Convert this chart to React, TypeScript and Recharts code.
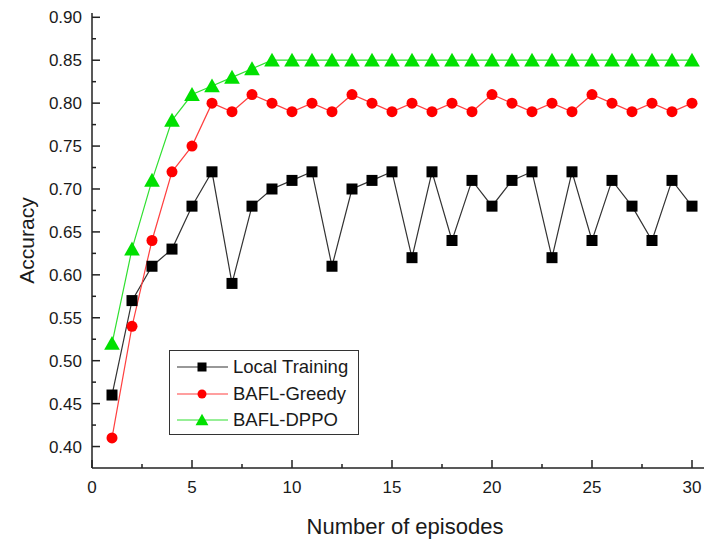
import { LineChart, Line, XAxis, YAxis } from "recharts"

// episode numbers 1..30
const episodes = [1, 2, 3, 4, 5, 6, 7, 8, 9, 10, 11, 12, 13, 14, 15, 16, 17, 18, 19, 20, 21, 22, 23, 24, 25, 26, 27, 28, 29, 30]

const localTraining = [0.46, 0.57, 0.61, 0.63, 0.68, 0.72, 0.59, 0.68, 0.7, 0.71, 0.72, 0.61, 0.7, 0.71, 0.72, 0.62, 0.72, 0.64, 0.71, 0.68, 0.71, 0.72, 0.62, 0.72, 0.64, 0.71, 0.68, 0.64, 0.71, 0.68]
const baflGreedy = [0.41, 0.54, 0.64, 0.72, 0.75, 0.8, 0.79, 0.81, 0.8, 0.79, 0.8, 0.79, 0.81, 0.8, 0.79, 0.8, 0.79, 0.8, 0.79, 0.81, 0.8, 0.79, 0.8, 0.79, 0.81, 0.8, 0.79, 0.8, 0.79, 0.8]
const baflDppo = [0.52, 0.63, 0.71, 0.78, 0.81, 0.82, 0.83, 0.84, 0.85, 0.85, 0.85, 0.85, 0.85, 0.85, 0.85, 0.85, 0.85, 0.85, 0.85, 0.85, 0.85, 0.85, 0.85, 0.85, 0.85, 0.85, 0.85, 0.85, 0.85, 0.85]

const xTicks = [0, 2.5, 5, 7.5, 10, 12.5, 15, 17.5, 20, 22.5, 25, 27.5, 30]
const yTicks = [0.4, 0.425, 0.45, 0.475, 0.5, 0.525, 0.55, 0.575, 0.6, 0.625, 0.65, 0.675, 0.7, 0.725, 0.75, 0.775, 0.8, 0.825, 0.85, 0.875, 0.9]

const seriesNames = ["Local Training", "BAFL-Greedy", "BAFL-DPPO"]

const data = episodes.map((ep, i) => ({
  ep,
  local: localTraining[i],
  greedy: baflGreedy[i],
  dppo: baflDppo[i],
}))

const FONT = "'Liberation Sans', Arial, sans-serif"
const AXIS_COLOR = "#222"
const TEXT_COLOR = "#1a1a1a"

function isMajor(v: number, step: number) {
  return Math.abs(v / step - Math.round(v / step)) < 1e-6
}

const YTick = (props: any) => {
  const { x, y, payload } = props
  const major = isMajor(payload.value, 0.05)
  return (
    <g>
      <line x1={x} y1={y} x2={x + (major ? 8 : 4)} y2={y} stroke={AXIS_COLOR} strokeWidth={1.5} />
      {major && (
        <text x={x - 10} y={y + 6} textAnchor="end" fontSize={17} fontFamily={FONT} fill={TEXT_COLOR}>
          {payload.value.toFixed(2)}
        </text>
      )}
    </g>
  )
}

const XTick = (props: any) => {
  const { x, y, payload } = props
  const major = isMajor(payload.value, 5)
  return (
    <g>
      <line x1={x} y1={y} x2={x} y2={y - (major ? 8 : 4)} stroke={AXIS_COLOR} strokeWidth={1.5} />
      {major && (
        <text x={x} y={y + 25} textAnchor="middle" fontSize={17} fontFamily={FONT} fill={TEXT_COLOR}>
          {payload.value}
        </text>
      )}
    </g>
  )
}

// rotated y title, centred on the plot height
const YTitle = (props: any) => {
  const { viewBox } = props
  const x = viewBox.x + 34
  const y = viewBox.y + viewBox.height / 2
  return (
    <text x={x} y={y} transform={`rotate(-90, ${x}, ${y})`} textAnchor="middle" fontSize={21} fontFamily={FONT} fill={TEXT_COLOR}>
      Accuracy
    </text>
  )
}

const Square = ({ cx, cy, s = 11 }: any) => <rect x={cx - s / 2} y={cy - s / 2} width={s} height={s} fill="#000" />
const Circle = ({ cx, cy, s = 11 }: any) => <circle cx={cx} cy={cy} r={s / 2} fill="#ff0000" />
const Triangle = ({ cx, cy, s = 11 }: any) => {
  const h = s * 1.15
  return <polygon points={`${cx},${cy - h * 0.6} ${cx - h * 0.62},${cy + h * 0.5} ${cx + h * 0.62},${cy + h * 0.5}`} fill="#00e000" />
}

const markers = [Square, Circle, Triangle]
const lineColors = ["#333333", "#ff4040", "#30e030"]

const renderDot = (Shape: any) => (props: any) => <Shape key={`${props.dataKey}-${props.index}`} cx={props.cx} cy={props.cy} />

// legend drawn as an overlay so it doesn't eat into the plot area
const LegendBox = () => (
  <div
    style={{
      position: "absolute",
      left: 169,
      top: 350,
      boxSizing: "border-box",
      border: "1.5px solid #333",
      background: "#fff",
      width: 190,
      height: 85,
      paddingTop: 3,
      fontFamily: FONT,
      fontSize: 18.5,
      color: TEXT_COLOR,
    }}
  >
    {seriesNames.map((name, i) => {
      const Shape = markers[i]
      return (
        <div key={name} style={{ display: "flex", alignItems: "center", height: 26.5 }}>
          <svg width={58} height={20} style={{ marginLeft: 5, flexShrink: 0 }}>
            <line x1={2} y1={10} x2={53} y2={10} stroke={lineColors[i]} strokeWidth={1.2} />
            <Shape cx={27} cy={10} s={9} />
          </svg>
          <span style={{ whiteSpace: "nowrap" }}>{name}</span>
        </div>
      )
    })}
  </div>
)

export default function App() {
  return (
    <div style={{ position: "absolute", left: 0, top: 0, width: 707, height: 539, background: "#fff" }}>
      <LineChart width={707} height={539} data={data} margin={{ top: 13, right: 3, bottom: 0, left: 0 }}>
        <XAxis
          dataKey="ep"
          type="number"
          domain={[0, 30.6]}
          ticks={xTicks}
          interval={0}
          allowDataOverflow
          height={71}
          tickSize={0}
          tickMargin={0}
          tickLine={false}
          tick={<XTick />}
          axisLine={{ stroke: AXIS_COLOR, strokeWidth: 1.5 }}
          label={{ value: "Number of episodes", position: "insideBottom", offset: 5, dx: 7, fontSize: 22, fontFamily: FONT, fill: TEXT_COLOR }}
        />
        <YAxis
          type="number"
          domain={[0.375, 0.905]}
          ticks={yTicks}
          interval={0}
          allowDataOverflow
          width={92}
          tickSize={0}
          tickMargin={0}
          tickLine={false}
          tick={<YTick />}
          axisLine={{ stroke: AXIS_COLOR, strokeWidth: 1.5 }}
          label={{ content: <YTitle /> }}
        />
        <Line dataKey="local" name={seriesNames[0]} stroke={lineColors[0]} strokeWidth={1.2} dot={renderDot(Square)} activeDot={false} isAnimationActive={false} />
        <Line dataKey="greedy" name={seriesNames[1]} stroke={lineColors[1]} strokeWidth={1.2} dot={renderDot(Circle)} activeDot={false} isAnimationActive={false} />
        <Line dataKey="dppo" name={seriesNames[2]} stroke={lineColors[2]} strokeWidth={1.2} dot={renderDot(Triangle)} activeDot={false} isAnimationActive={false} />
      </LineChart>
      <LegendBox />
    </div>
  )
}
